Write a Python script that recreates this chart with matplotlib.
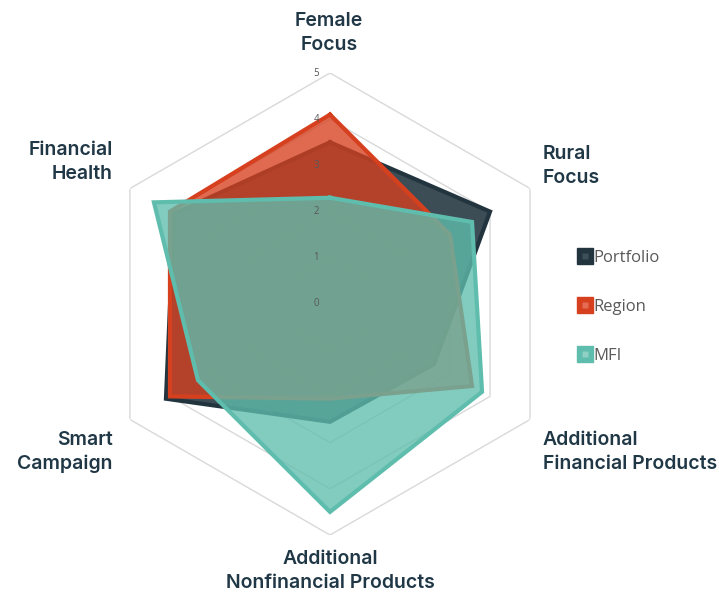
import numpy as np
import matplotlib.pyplot as plt
from matplotlib.lines import Line2D
from matplotlib.legend_handler import HandlerTuple
from matplotlib.transforms import offset_copy

# Radar chart data (scores 0-5), axes clockwise from the top
categories = [
    "Female\nFocus",
    "Rural\nFocus",
    "Additional\nFinancial Products",
    "Additional\nNonfinancial Products",
    "Smart\nCampaign",
    "Financial\nHealth",
]
portfolio = [3.5, 4.0, 2.6, 2.55, 4.1, 3.9]
region = [4.1, 3.0, 3.55, 2.05, 4.0, 4.0]
mfi = [2.3, 3.55, 3.8, 4.5, 3.3, 4.4]
levels = [0, 1, 2, 3, 4, 5]

series = [
    ("Portfolio", portfolio, "#22343e", 0.88, "#3d4f58"),
    ("Region", region, "#d6401f", 0.78, "#e46c55"),
    ("MFI", mfi, "#5fbdad", 0.78, "#8ed0c3"),
]

label_color = "#203746"
tick_color = "#595959"

fig = plt.figure(figsize=(7.19, 5.93), dpi=100)
W, H = 719, 593

# centre of the chart at (330, 304) px, radius 231 px
ax = fig.add_axes([(330 - 231) / W, (H - 304 - 231) / H, 462 / W, 462 / H], projection="polar")
ax.set_theta_offset(np.pi / 2)
ax.set_theta_direction(-1)
ax.set_ylim(0, 5)
ax.axis("off")

n = len(categories)
angles = np.linspace(0, 2 * np.pi, n, endpoint=False)
ang_closed = np.append(angles, angles[0])

# hexagonal grid
for lvl in levels[1:]:
    ax.plot(ang_closed, [lvl] * (n + 1), color="#d9d9d9", lw=1.0, zorder=1)

z = 2
for name, vals, col, alpha, _ in series:
    v = np.append(vals, vals[0])
    ax.fill(ang_closed, v, color=col, alpha=alpha, lw=0, zorder=z)
    ax.plot(ang_closed, v, color=col, lw=3.0, solid_joinstyle="miter", zorder=z + 1)
    z += 2

# scale labels along the top axis
tick_tr = offset_copy(ax.transData, fig=fig, x=-8, y=0, units="points")
for lvl in levels:
    ax.text(0, lvl, str(lvl), transform=tick_tr, ha="right", va="center",
            fontsize=7, color=tick_color, family="Open Sans", zorder=20)

# category labels
lab_kw = dict(fontsize=14, color=label_color, family="Inter", fontweight="semibold",
              linespacing=1.38)
label_pos = [
    (329, 33, "center"),
    (543, 166, "left"),
    (543, 452, "left"),
    (330, 571, "center"),
    (113, 452, "right"),
    (113, 162, "right"),
]
for text, (x, y, ha) in zip(categories, label_pos):
    fig.text(x / W, 1 - y / H, text, ha=ha, va="center", multialignment=ha, **lab_kw)

# legend
handles = []
for name, vals, col, alpha, inner in series:
    outer_m = Line2D([], [], marker="s", ms=11, mfc=col, mec=col, ls="None")
    inner_m = Line2D([], [], marker="s", ms=4, mfc=inner, mec="none", ls="None")
    handles.append((outer_m, inner_m))
leg = fig.legend(
    handles, [s[0] for s in series],
    handler_map={tuple: HandlerTuple(ndivide=1, pad=0)},
    loc="center left", bbox_to_anchor=(563 / W, 1 - 307 / H),
    frameon=False, handlelength=0.8, handletextpad=0.1, labelspacing=2.0,
    prop={"family": "Open Sans", "size": 12},
)
for t in leg.get_texts():
    t.set_color(tick_color)

fig.savefig("out.png", dpi=100)
